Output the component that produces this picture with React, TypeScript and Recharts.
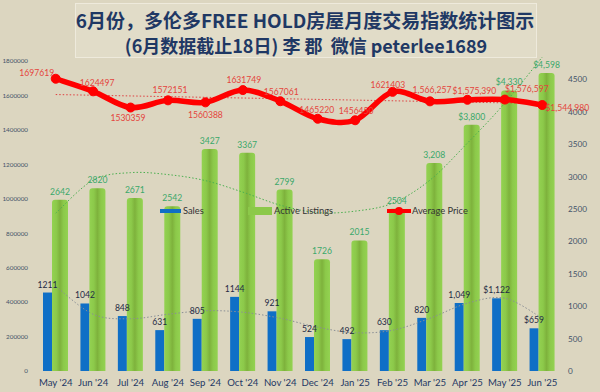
import React from 'react';
import { ComposedChart, Bar, Line, XAxis, YAxis, LabelList } from 'recharts';

const months = ["May '24", "Jun '24", "Jul '24", "Aug '24", "Sep '24", "Oct '24", "Nov '24", "Dec '24", "Jan '25", "Feb '25", "Mar '25", "Apr '25", "May '25", "Jun '25"];
const sales = [1211, 1042, 848, 631, 805, 1144, 921, 524, 492, 630, 820, 1049, 1122, 659];
const salesLabels = ['1211', '1042', '848', '631', '805', '1144', '921', '524', '492', '630', '820', '1,049', '$1,122', '$659'];
const listings = [2642, 2820, 2671, 2542, 3427, 3367, 2799, 1726, 2015, 2504, 3208, 3800, 4330, 4598];
const listingLabels = ['2642', '2820', '2671', '2542', '3427', '3367', '2799', '1726', '2015', '2504', '3,208', '$3,800', '$4,330', '$4,598'];
const avgPrice = [1697619, 1624497, 1530359, 1572151, 1560388, 1631749, 1567061, 1465220, 1456450, 1621403, 1566257, 1575390, 1576597, 1544980];
const priceLabels = ['1697619', '1624497', '1530359', '1572151', '1560388', '1631749', '1567061', '1465220', '1456450', '1621403', '1,566,257', '$1,575,390', '$1,576,597', '$1,544,980'];
// trendlines
const salesTrend = [1308, 876, 806, 876, 930, 907, 814, 675, 590, 629, 814, 1046, 1123, 814];
const listingsTrend = [2436, 2946, 3061, 3031, 2938, 2760, 2559, 2444, 2467, 2590, 2946, 3517, 4135, 4845];
const priceTrend: (number | null)[] = [1605800, null, null, null, null, null, null, null, null, null, null, null, null, 1553500];

const leftTicks = [0, 200000, 400000, 600000, 800000, 1000000, 1200000, 1400000, 1600000, 1800000];
const rightTicks = [0, 500, 1000, 1500, 2000, 2500, 3000, 3500, 4000, 4500];

// label offsets (style, not data)
const priceLabelDx = [-19, 4, -2.6, 2, 0, 1, 1, -1, 1, -4.7, 2, 7, 22, 25];
const priceLabelDy = [-6, -8.5, 10, -10.7, 13, -10.3, -9.7, -8.4, -9.7, -6.7, -11.4, -9, -10.6, 3.4];

const data = months.map((m, i) => ({
  month: m,
  sales: sales[i],
  listings: listings[i],
  price: avgPrice[i],
  salesTrend: salesTrend[i],
  listingsTrend: listingsTrend[i],
  priceTrend: priceTrend[i],
}));

const FONT = 'Lato, "Noto Sans", sans-serif';
const BG = '#dcd6c0';
const BLUE = '#0f6fc6';
const RED = '#ff0000';

function catmullRom(context: any) {
  let pts: number[][] = [];
  return {
    areaStart() {},
    areaEnd() {},
    lineStart() { pts = []; },
    point(x: number, y: number) { pts.push([+x, +y]); },
    lineEnd() {
      const n = pts.length;
      if (!n) return;
      context.moveTo(pts[0][0], pts[0][1]);
      for (let i = 0; i < n - 1; i++) {
        const p0 = pts[i - 1] || pts[i];
        const p1 = pts[i];
        const p2 = pts[i + 1];
        const p3 = pts[i + 2] || p2;
        context.bezierCurveTo(
          p1[0] + (p2[0] - p0[0]) / 6, p1[1] + (p2[1] - p0[1]) / 6,
          p2[0] - (p3[0] - p1[0]) / 6, p2[1] - (p3[1] - p1[1]) / 6,
          p2[0], p2[1]
        );
      }
    },
  };
}

const PriceLabel = (props: any) => {
  const { x, y, index } = props;
  return (
    <text x={x + priceLabelDx[index]} y={y + priceLabelDy[index]} textAnchor="middle" dominantBaseline="central"
      fontSize={8.6} fontFamily={FONT} fill="#e4453c">{priceLabels[index]}</text>
  );
};

const makeBarLabel = (labels: string[], color: string) => (props: any) => {
  const { x, y, width, index } = props;
  return (
    <text x={x + width / 2} y={y - 5} textAnchor="middle" fontSize={8.6} fontFamily={FONT} fill={color}>{labels[index]}</text>
  );
};

export default function App() {
  return (
    <div style={{ position: 'absolute', left: 0, top: 0, width: 600, height: 392, background: BG, overflow: 'hidden', fontFamily: FONT }}>
      <div style={{ position: 'absolute', left: 75, top: 3, width: 460, height: 53, border: '1px solid #eeeadc', background: '#e1dcc8' }} />
      <div style={{ position: 'absolute', left: 0, top: 8, width: 610, textAlign: 'center', fontFamily: '"Noto Sans CJK SC", sans-serif', fontWeight: 700, fontSize: 19, lineHeight: '24px', color: '#1f3864', whiteSpace: 'nowrap' }}>
        6月份，多伦多FREE HOLD房屋月度交易指数统计图示
      </div>
      <div style={{ position: 'absolute', left: 0, top: 33, width: 612, textAlign: 'center', fontFamily: '"Noto Sans CJK SC", sans-serif', fontWeight: 700, fontSize: 18, lineHeight: '24px', color: '#1f3864', whiteSpace: 'nowrap' }}>
        (6月数据截止18日) 李 郡&nbsp;&nbsp;微信 peterlee1689
      </div>
      <ComposedChart width={600} height={392} data={data} margin={{ top: 47, right: 0, bottom: 0, left: 0 }} barGap={0}
        style={{ position: 'absolute', left: 0, top: 0 }}>
        <defs>
          <linearGradient id="greenBar" x1="0" y1="0" x2="1" y2="0">
            <stop offset="0%" stopColor="#93d251" />
            <stop offset="28%" stopColor="#8cc94a" />
            <stop offset="50%" stopColor="#7eb23c" />
            <stop offset="72%" stopColor="#8cc94a" />
            <stop offset="100%" stopColor="#93d251" />
          </linearGradient>
        </defs>
        <XAxis dataKey="month" tickLine={false} axisLine={false} interval={0} tickSize={0} tickMargin={8} height={21}
          tick={{ fontSize: 9.6, fill: '#1f3864', fontFamily: FONT }} />
        <YAxis yAxisId="left" domain={[0, 1882000]} ticks={leftTicks} interval={0} width={37} tickLine={false} axisLine={false}
          tickSize={0} tickMargin={9} tick={{ fontSize: 6.3, fill: '#44546a', fontFamily: FONT }} allowDataOverflow />
        <YAxis yAxisId="right" orientation="right" domain={[0, 5000]} ticks={rightTicks} interval={0} width={39} tickLine={false}
          axisLine={false} tickSize={0} tickMargin={7} tick={{ fontSize: 8.2, fill: '#44546a', fontFamily: FONT }} allowDataOverflow />
        <Bar yAxisId="right" dataKey="sales" fill={BLUE} barSize={9} isAnimationActive={false}>
          <LabelList dataKey="sales" content={makeBarLabel(salesLabels, '#1f2a44')} />
        </Bar>
        <Bar yAxisId="right" dataKey="listings" fill="url(#greenBar)" barSize={16} radius={[3, 3, 0, 0]} isAnimationActive={false}>
          <LabelList dataKey="listings" content={makeBarLabel(listingLabels, '#3aa86a')} />
        </Bar>
        <Line yAxisId="right" dataKey="listingsTrend" type={catmullRom as any} stroke="#4caf50" strokeWidth={1} strokeDasharray="1.5 2"
          dot={false} activeDot={false} isAnimationActive={false} />
        <Line yAxisId="right" dataKey="salesTrend" type={catmullRom as any} stroke="#8a8f96" strokeWidth={1} strokeDasharray="1.5 2"
          dot={false} activeDot={false} isAnimationActive={false} />
        <Line yAxisId="left" dataKey="priceTrend" type="linear" connectNulls stroke="#e04040" strokeWidth={1} strokeDasharray="1.5 2"
          dot={false} activeDot={false} isAnimationActive={false} />
        <Line yAxisId="left" dataKey="price" stroke="none" dot={false} activeDot={false} isAnimationActive={false}>
          <LabelList dataKey="price" content={PriceLabel} />
        </Line>
        <Line yAxisId="left" dataKey="price" type={catmullRom as any} stroke={RED} strokeWidth={5.5}
          dot={{ r: 4.5, fill: RED, stroke: RED, strokeWidth: 1 }} activeDot={false} isAnimationActive={false} />
      </ComposedChart>
      {/* legend */}
      <div style={{ position: 'absolute', left: 160, top: 209, width: 21, height: 4, background: BLUE }} />
      <div style={{ position: 'absolute', left: 183, top: 204, fontSize: 9.3, lineHeight: '14px', color: '#333' }}>Sales</div>
      <div style={{ position: 'absolute', left: 248, top: 207, width: 24, height: 8, background: '#8cc94a' }} />
      <div style={{ position: 'absolute', left: 274, top: 204, fontSize: 9.3, lineHeight: '14px', color: '#333' }}>Active Listings</div>
      <div style={{ position: 'absolute', left: 387, top: 209, width: 24, height: 4, background: RED }} />
      <div style={{ position: 'absolute', left: 395, top: 207, width: 8, height: 8, borderRadius: 4, background: RED }} />
      <div style={{ position: 'absolute', left: 412, top: 204, fontSize: 9.3, lineHeight: '14px', color: '#333' }}>Average Price</div>
    </div>
  );
}
